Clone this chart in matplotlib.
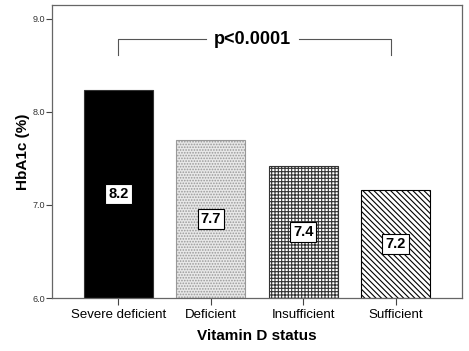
import numpy as np
import matplotlib
matplotlib.use("Agg")
import matplotlib.pyplot as plt

plt.rcParams['font.family'] = ['Liberation Sans', 'DejaVu Sans']
plt.rcParams['hatch.linewidth'] = 0.8

categories = ["Severe deficient", "Deficient", "Insufficient", "Sufficient"]
hba1c = [8.24, 7.70, 7.42, 7.16]
labels = ["8.2", "7.7", "7.4", "7.2"]
p_text = "p<0.0001"

fig = plt.figure(figsize=(4.69, 3.51), dpi=100)
ax = fig.add_axes([52 / 469, 53 / 351, 410 / 469, 293 / 351])

x = np.arange(len(categories))
faces = ["black", "#e8e8e8", "white", "white"]
hatches = [None, "......", "+++++", "\\\\\\\\\\\\"]
hcolors = ["black", "#999999", "#333333", "black"]
base = 6.0
for i in range(len(categories)):
    b = ax.bar(x[i], hba1c[i] - base, bottom=base, width=0.75,
               color=faces[i], edgecolor="#333333", linewidth=0.8)
    if hatches[i]:
        b[0].set_hatch(hatches[i])
        b[0].set_edgecolor(hcolors[i])
    ax.text(x[i], (base + hba1c[i]) / 2, labels[i], ha="center", va="center",
            fontsize=10.5, fontweight="bold",
            bbox=dict(boxstyle="square,pad=0.2", facecolor="white",
                      edgecolor="black", linewidth=0.8))

# significance bracket
yb = 8.78
ax.plot([0, 0, 0.95], [8.61, yb, yb], color="#555555", lw=0.8)
ax.plot([1.95, 2.95, 2.95], [yb, yb, 8.61], color="#555555", lw=0.8)
ax.text(1.45, yb, p_text, ha="center", va="center", fontsize=13,
        fontweight="bold")

ax.set_xlim(-0.72, 3.72)
ax.set_ylim(6.0, 9.15)
ax.set_yticks([6.0, 7.0, 8.0, 9.0])
ax.set_yticklabels(["6.0", "7.0", "8.0", "9.0"], fontsize=6.5, color="#333333")
ax.set_xticks(x)
ax.set_xticklabels(categories, fontsize=9.5)
ax.tick_params(axis="x", length=5, color="#444444", pad=3)
ax.tick_params(axis="y", length=4, color="#444444", pad=1)
for s in ax.spines.values():
    s.set_color("#666666")
    s.set_linewidth(0.9)

ax.set_xlabel("Vitamin D status", fontsize=11, fontweight="bold", labelpad=6)
ax.set_ylabel("HbA1c (%)", fontsize=11, fontweight="bold", labelpad=2)

fig.savefig("out.png", dpi=100)
